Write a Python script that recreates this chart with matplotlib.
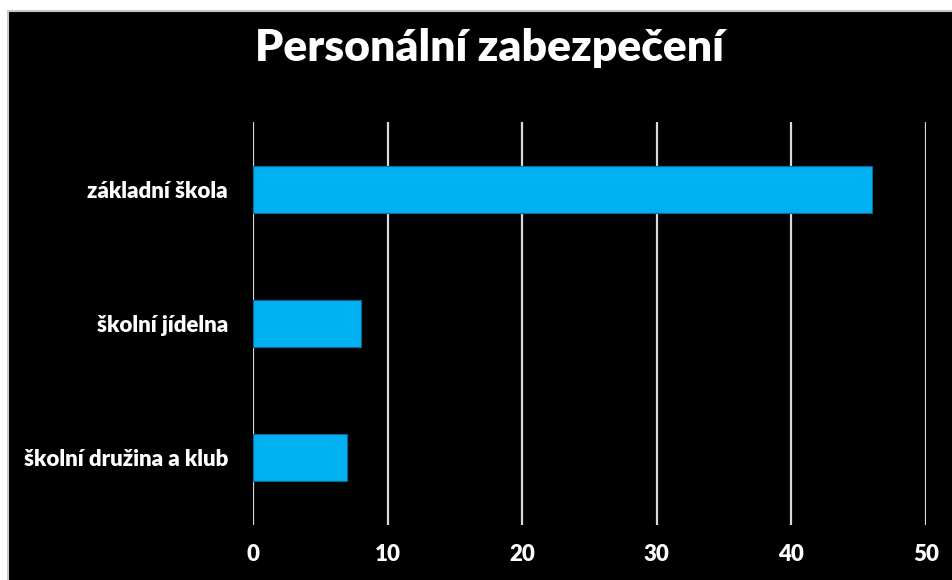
import matplotlib.pyplot as plt
from matplotlib.patches import Rectangle

categories = ['základní škola', 'školní jídelna', 'školní družina a klub']
values = [46, 8, 7]
xticks = [0, 10, 20, 30, 40, 50]

plt.rcParams['font.family'] = ['Lato', 'DejaVu Sans']

fig = plt.figure(figsize=(9.52, 5.8), dpi=100)
fig.patch.set_facecolor('white')

# black chart area with a thin grey frame (right and bottom run off the image)
fig.patches.append(Rectangle((8 / 952, -0.01), 1.02 - 8 / 952, 1.01 - 11 / 580,
                             transform=fig.transFigure, facecolor='black',
                             edgecolor='#c8c8c8', linewidth=1.5, zorder=-10))

ax = fig.add_axes([253 / 952, 1 - 525 / 580, (926 - 253) / 952, (525 - 122) / 580])
ax.set_facecolor('black')

ypos = list(range(len(categories)))
ax.barh(ypos, values, height=0.35, color='#00B0F0', edgecolor='#0a6a96',
        linewidth=0.8, zorder=3)

ax.set_xlim(0, 50)
ax.set_ylim(len(categories) - 0.5, -0.5)
ax.set_xticks(xticks)
ax.set_yticks(ypos)
ax.set_yticklabels(categories)
ax.grid(axis='x', color='#d9d9d9', linewidth=1.6, zorder=1)
ax.set_axisbelow(True)

for s in ax.spines.values():
    s.set_visible(False)
ax.tick_params(length=0, colors='white', labelsize=16)
ax.tick_params(axis='x', pad=14)
ax.tick_params(axis='y', pad=18)
for lab in ax.get_xticklabels() + ax.get_yticklabels():
    lab.set_fontweight('heavy')

fig.text(490 / 952, 1 - 48 / 580, 'Personální zabezpečení', color='white',
         fontsize=32, fontweight='heavy', ha='center', va='center')

plt.savefig('out.png', dpi=100, facecolor=fig.get_facecolor())
